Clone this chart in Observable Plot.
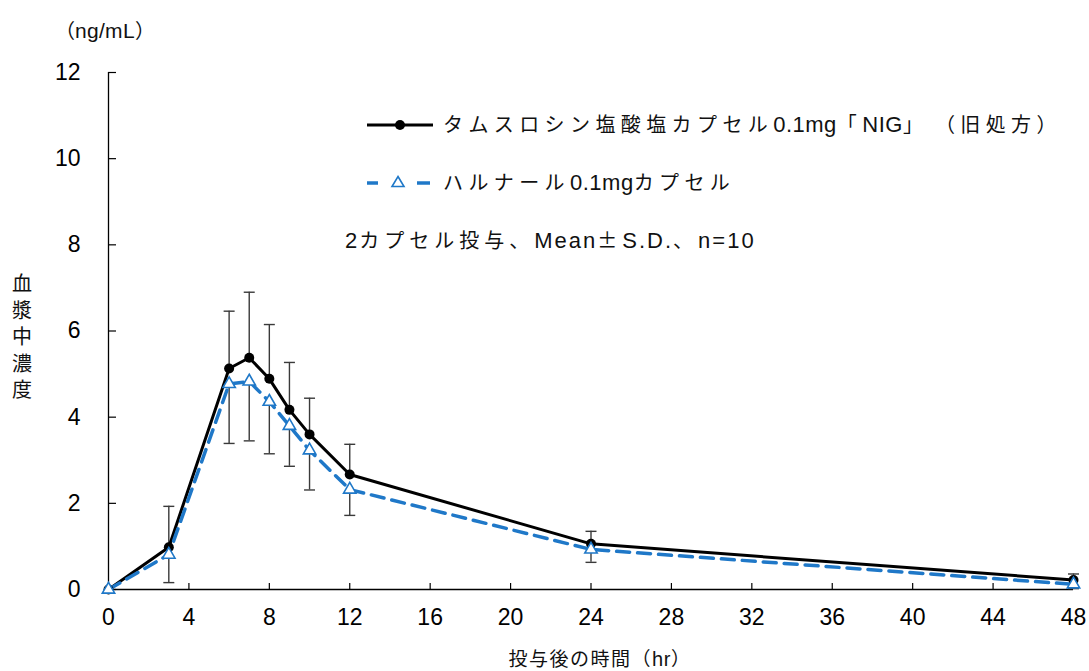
<!DOCTYPE html>
<html><head><meta charset="utf-8">
<script src="https://cdn.jsdelivr.net/npm/d3@7"></script>
<script src="https://cdn.jsdelivr.net/npm/@observablehq/plot@0.6"></script>
<style>
body{margin:0;background:#fff;}
#wrap{position:relative;width:1089px;height:671px;font-family:"Liberation Sans","Noto Sans CJK JP",sans-serif;color:#111;}
#wrap svg{position:absolute;left:0;top:0;}
.t{position:absolute;white-space:nowrap;line-height:1;transform:translateY(-50%);}
.cjk{font-family:"Noto Sans CJK JP",sans-serif;}
.lat{font-family:"Liberation Sans",Arial,sans-serif;}
.sample{position:absolute;transform:translateY(-50%);}
</style></head>
<body><div id="wrap"></div>
<script>
const times      = [0, 3, 6, 7, 8, 9, 10, 12, 24, 48];
const tamsMean   = [0, 0.98, 5.13, 5.38, 4.89, 4.17, 3.60, 2.67, 1.06, 0.22];
const tamsSD     = [0, 0.95, 1.33, 1.52, 1.26, 1.10, 0.84, 0.70, 0.29, 0.14];
const harnalMean = [0, 0.81, 4.77, 4.83, 4.36, 3.80, 3.23, 2.32, 0.93, 0.12];
const harnalSD   = [0, 0.65, 1.38, 1.38, 1.21, 0.94, 0.92, 0.60, 0.30, 0.10];
const xTicks = [0, 4, 8, 12, 16, 20, 24, 28, 32, 36, 40, 44, 48];
const yTicks = [0, 2, 4, 6, 8, 10, 12];
const seriesNames = ["タムスロシン塩酸塩カプセル0.1mg「NIG」 （旧処方）", "ハルナール0.1mgカプセル"];
const noteText = "2カプセル投与、Mean±S.D.、n=10";
const yUnit = "（ng/mL）";
const yLabel = "血漿中濃度";
const xLabel = "投与後の時間（hr）";

const BLUE = "#1f78c8";
const ERR = "#3a3a3a";
const rows = times.map((t, i) => ({t, tm: tamsMean[i], ts: tamsSD[i], hm: harnalMean[i], hs: harnalSD[i]}));
const capSymbol = {draw(ctx, size) { const r = Math.sqrt(size / Math.PI); ctx.moveTo(-r, 0); ctx.lineTo(r, 0); }};

const W = 1089, H = 671, mL = 108, mR = 16, mT = 72, mB = 82;
const fw = W - mL - mR, fh = H - mT - mB;

const chart = Plot.plot({
  width: W, height: H, marginLeft: mL, marginRight: mR, marginTop: mT, marginBottom: mB,
  style: {fontFamily: "'Liberation Sans', Arial, sans-serif", fontSize: "23px", color: "#000", background: "transparent", overflow: "visible"},
  x: {domain: [0, 48], label: null},
  y: {domain: [0, 12], label: null},
  marks: [
    Plot.axisX(xTicks, {tickSize: 0, tickPadding: 19, fontSize: 23, label: null, tickFormat: d => String(d)}),
    Plot.axisY(yTicks, {tickSize: 0, tickPadding: 28, fontSize: 23, label: null, tickFormat: d => String(d)}),
    Plot.tickY(yTicks, {y: d => d, insetRight: fw - 8, stroke: "#000", strokeWidth: 1.2}),
    Plot.tickX(xTicks, {x: d => d, insetTop: fh - 6, stroke: "#000", strokeWidth: 1.2}),
    Plot.ruleX([0], {y1: 0, y2: 12, stroke: "#000", strokeWidth: 1.3}),
    Plot.ruleY([0], {stroke: "#000", strokeWidth: 1.3}),
    Plot.ruleX(rows.filter(d => d.ts > 0), {x: "t", y1: "tm", y2: d => d.tm + d.ts, stroke: ERR, strokeWidth: 1.4}),
    Plot.dot(rows.filter(d => d.ts > 0), {x: "t", y: d => d.tm + d.ts, symbol: capSymbol, r: 5.5, stroke: ERR, strokeWidth: 1.4, fill: "none"}),
    Plot.ruleX(rows.filter(d => d.hs > 0), {x: "t", y1: d => d.hm - d.hs, y2: "hm", stroke: ERR, strokeWidth: 1.4}),
    Plot.dot(rows.filter(d => d.hs > 0), {x: "t", y: d => d.hm - d.hs, symbol: capSymbol, r: 5.5, stroke: ERR, strokeWidth: 1.4, fill: "none"}),
    Plot.line(rows, {x: "t", y: "tm", stroke: "#000", strokeWidth: 3}),
    Plot.line(rows, {x: "t", y: "hm", stroke: BLUE, strokeWidth: 3.5, strokeDasharray: "13,8"}),
    Plot.dot(rows, {x: "t", y: "tm", r: 5, fill: "#000", stroke: "none"}),
    Plot.dot(rows, {x: "t", y: "hm", symbol: "triangle", r: 4.6, stroke: BLUE, fill: "#fff", strokeWidth: 1.6})
  ]
});

const wrap = document.getElementById("wrap");
wrap.appendChild(chart);

const cjkRe = /[\u3000-\u30ff\u4e00-\u9fff\uff00-\uffef±]+/g;
function richText(txt, cjk, lat) {
  // split text into CJK and Latin runs with different styling
  let html = "", last = 0;
  txt.replace(cjkRe, (m, off) => {
    if (off > last) html += `<span class="lat" style="font-size:${lat.size}px;letter-spacing:${lat.ls}px">${txt.slice(last, off).replace(/ /g, "&nbsp;")}</span>`;
    html += `<span class="cjk" style="font-size:${cjk.size}px;letter-spacing:${cjk.ls}px">${m}</span>`;
    last = off + m.length;
    return m;
  });
  if (last < txt.length) html += `<span class="lat" style="font-size:${lat.size}px;letter-spacing:${lat.ls}px">${txt.slice(last).replace(/ /g, "&nbsp;")}</span>`;
  return html;
}
function addText(html, left, cy, extra = "") {
  const d = document.createElement("div");
  d.className = "t";
  d.innerHTML = html;
  d.style.cssText = `left:${left}px;top:${cy}px;${extra}`;
  wrap.appendChild(d);
  return d;
}
addText(richText(yUnit, {size: 20, ls: 0}, {size: 21, ls: 0.3}), 55, 30);
[...yLabel].forEach((ch, i) => addText(richText(ch, {size: 20, ls: 0}, {size: 20, ls: 0}), 12, 283 + 26.5 * i, "width:20px;text-align:center;"));
addText(richText(xLabel, {size: 19, ls: 1.5}, {size: 20, ls: 0.5}), 600, 658, "transform:translate(-50%,-50%);");

function addSample(cy, svgInner) {
  const d = document.createElement("div");
  d.className = "sample";
  d.style.cssText = `left:365px;top:${cy}px;width:70px;height:20px;`;
  d.innerHTML = `<svg width="70" height="20" viewBox="0 0 70 20" style="position:static">${svgInner}</svg>`;
  wrap.appendChild(d);
}
addSample(125, `<line x1="2" y1="10" x2="68" y2="10" stroke="#000" stroke-width="3"/><circle cx="35" cy="10" r="5" fill="#000"/>`);
addSample(183, `<line x1="2" y1="10" x2="13" y2="10" stroke="${BLUE}" stroke-width="3.5"/><line x1="52" y1="10" x2="65" y2="10" stroke="${BLUE}" stroke-width="3.5"/><path d="M33,3.5 L39,13.5 L27,13.5 Z" fill="#fff" stroke="${BLUE}" stroke-width="1.6"/>`);
addText(richText(seriesNames[0], {size: 20, ls: 5.4}, {size: 22, ls: 0.5}), 443, 125);
addText(richText(seriesNames[1], {size: 20, ls: 5.4}, {size: 22, ls: 0.5}), 443, 183);
addText(richText(noteText, {size: 20, ls: 5}, {size: 22, ls: 2}), 345, 241);
</script>
</body></html>
